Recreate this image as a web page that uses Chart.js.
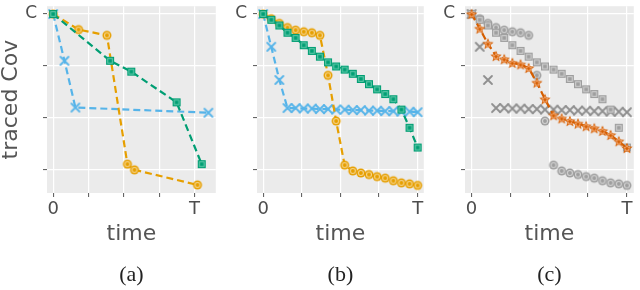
<!DOCTYPE html>
<html>
<head>
<meta charset="utf-8">
<script src="https://cdn.jsdelivr.net/npm/chart.js@4/dist/chart.umd.min.js"></script>
<style>
  body { margin: 0; background: #fff; }
  #wrap { position: relative; width: 640px; height: 290px; }
  canvas { position: absolute; top: 0; }
</style>
</head>
<body>
<div id="wrap">
  <canvas id="chartA" width="222" height="290" style="left:0px"></canvas>
  <canvas id="chartB" width="208" height="290" style="left:222px"></canvas>
  <canvas id="chartC" width="210" height="290" style="left:430px"></canvas>
</div>
<script>
// time is in units where T = 4, covariance in units where C = 3

// (a) adaptive steps, one time list per method
const timeA_blue = [0, 0.32, 0.63, 4.39];
const blueA = [3.00, 2.10, 1.20, 1.10];
const timeA_orange = [0, 0.72, 1.52, 2.10, 2.30, 4.08];
const orangeA = [3.00, 2.70, 2.59, 0.11, 0.00, -0.29];
const timeA_green = [0, 1.61, 2.21, 3.49, 4.20];
const greenA = [3.00, 2.10, 1.89, 1.30, 0.11];

// (b) and (c) fixed steps
const timeSteps = [0, 0.21, 0.42, 0.63, 0.84, 1.05, 1.26, 1.47, 1.68, 1.89,
                   2.11, 2.32, 2.53, 2.74, 2.95, 3.16, 3.37, 3.58, 3.79, 4.00];
const blueB = [3.00, 2.37, 1.73, 1.19, 1.19, 1.18, 1.18, 1.17, 1.17, 1.16,
               1.16, 1.15, 1.15, 1.14, 1.14, 1.13, 1.13, 1.12, 1.12, 1.11];
const orangeB = [3.00, 2.91, 2.82, 2.74, 2.69, 2.66, 2.64, 2.59, 1.82, 0.94,
                 0.09, -0.02, -0.06, -0.09, -0.13, -0.16, -0.21, -0.25, -0.27, -0.30];
const greenB = [3.00, 2.89, 2.78, 2.64, 2.54, 2.40, 2.29, 2.18, 2.07, 1.99,
                1.93, 1.85, 1.75, 1.65, 1.55, 1.46, 1.36, 1.16, 0.81, 0.43];
const starC = [3.00, 2.72, 2.43, 2.19, 2.13, 2.06, 2.03, 1.96, 1.68, 1.36,
               1.05, 0.99, 0.94, 0.89, 0.84, 0.80, 0.75, 0.67, 0.55, 0.42];

const xTickValues = [0, 1, 2, 3, 4];
const xTickLabels = ['0', '', '', '', 'T'];
const yTickValues = [0, 1, 2, 3];
const yTickLabels = ['', '', '', 'C'];

// small canvases used as point styles
function marker(kind, main, light) {
  const c = document.createElement('canvas');
  c.width = 14; c.height = 14;
  const g = c.getContext('2d');
  const m = 7;
  if (kind === 'square') {
    g.fillStyle = main;
    g.fillRect(m - 4, m - 4, 8, 8);
    g.strokeStyle = light; g.lineWidth = 1;
    g.strokeRect(m - 2.3, m - 2.3, 4.6, 4.6);
  } else if (kind === 'circle') {
    g.fillStyle = main;
    g.beginPath(); g.arc(m, m, 4.5, 0, 2 * Math.PI); g.fill();
    g.strokeStyle = light; g.lineWidth = 1.1;
    g.beginPath(); g.arc(m, m, 2.5, 0, 2 * Math.PI); g.stroke();
  } else if (kind === 'cross') {
    g.strokeStyle = main; g.lineWidth = 1.8; g.lineCap = 'round';
    g.beginPath();
    g.moveTo(m - 4, m - 4); g.lineTo(m + 4, m + 4);
    g.moveTo(m + 4, m - 4); g.lineTo(m - 4, m + 4);
    g.stroke();
  } else if (kind === 'star') {
    const path = (ro, ri) => {
      g.beginPath();
      for (let k = 0; k < 10; k++) {
        const r = k % 2 ? ri : ro;
        const a = -Math.PI / 2 + k * Math.PI / 5;
        g.lineTo(m + r * Math.cos(a), m + 0.5 + r * Math.sin(a));
      }
      g.closePath();
    };
    g.fillStyle = main; path(6, 2.7); g.fill();
    g.strokeStyle = light; g.lineWidth = 0.9; path(3.3, 1.5); g.stroke();
  }
  return c;
}

const BLUE = '#56B4E9', ORANGE = '#E69F00', GREEN = '#009E73', VERM = '#D55E00', GREY = '#9E9E9E';
const mkBlue = marker('cross', BLUE);
const mkOrange = marker('circle', ORANGE, '#F6D58E');
const mkGreen = marker('square', GREEN, '#6ACDB0');
const mkStar = marker('star', VERM, '#F2A670');
const mkGreyX = marker('cross', '#8E8E8E');
const mkGreyO = marker('circle', GREY, '#D4D4D4');
const mkGreyS = marker('square', GREY, '#D4D4D4');

function series(xs, ys, color, style, order, showLine) {
  return {
    data: xs.map((x, i) => ({ x: x, y: ys[i] })),
    borderColor: color,
    backgroundColor: color,
    borderWidth: 2.2,
    borderDash: [7, 4],
    pointStyle: style,
    pointRadius: 4,
    showLine: showLine,
    order: order
  };
}

const panelBg = {
  id: 'panelBg',
  beforeDraw(chart) {
    const { ctx, chartArea: a } = chart;
    ctx.save();
    ctx.fillStyle = '#EBEBEB';
    ctx.fillRect(a.left, a.top, a.right - a.left, a.bottom - a.top);
    ctx.restore();
  }
};

function options(xMin, xMax, yWidth, yTitle, caption, rightPad) {
  const grid = { color: '#FFFFFF', lineWidth: 1.2, tickColor: '#555', tickLength: 4, tickWidth: 1 };
  return {
    responsive: false,
    animation: false,
    layout: { padding: { top: 2, right: rightPad, left: 0, bottom: 0 } },
    plugins: {
      legend: { display: false },
      tooltip: { enabled: false },
      subtitle: {
        display: true,
        text: caption,
        position: 'bottom',
        fullSize: false,
        color: '#222',
        font: { family: 'Liberation Serif', size: 22, lineHeight: 1 },
        padding: { top: 11, bottom: 4 }
      }
    },
    scales: {
      x: {
        type: 'linear',
        min: xMin,
        max: xMax,
        border: { display: false },
        grid: grid,
        afterBuildTicks: s => { s.ticks = xTickValues.map(v => ({ value: v })); },
        afterFit: s => { s.height = 60; s.paddingLeft = 0; s.paddingRight = 0; },
        ticks: {
          autoSkip: false, maxRotation: 0, padding: 2, color: '#4D4D4D',
          font: { family: 'DejaVu Sans', size: 18 },
          callback: (v, i) => xTickLabels[i]
        },
        title: {
          display: true, text: 'time', color: '#555',
          font: { family: 'DejaVu Sans', size: 22, lineHeight: 1 },
          padding: { top: 0, bottom: 8 }
        }
      },
      y: {
        type: 'linear',
        min: -0.446,
        max: 3.151,
        border: { display: false },
        grid: grid,
        afterBuildTicks: s => { s.ticks = yTickValues.map(v => ({ value: v })); },
        afterFit: s => { s.width = yWidth; s.paddingTop = 0; s.paddingBottom = 0; },
        ticks: {
          autoSkip: false, padding: 6, color: '#4D4D4D',
          font: { family: 'DejaVu Sans', size: 17 },
          callback: (v, i) => yTickLabels[i]
        },
        title: {
          display: yTitle, text: 'traced Cov', color: '#555',
          font: { family: 'DejaVu Sans', size: 22, lineHeight: 1 },
          padding: 0
        }
      }
    }
  };
}

new Chart(document.getElementById('chartA').getContext('2d'), {
  type: 'scatter',
  data: {
    datasets: [
      series(timeA_blue, blueA, BLUE, mkBlue, 3, true),
      series(timeA_orange, orangeA, ORANGE, mkOrange, 2, true),
      series(timeA_green, greenA, GREEN, mkGreen, 1, true)
    ]
  },
  options: options(-0.174, 4.599, 47, true, '(a)', 2),
  plugins: [panelBg]
});

new Chart(document.getElementById('chartB').getContext('2d'), {
  type: 'scatter',
  data: {
    datasets: [
      series(timeSteps, blueB, BLUE, mkBlue, 3, true),
      series(timeSteps, orangeB, ORANGE, mkOrange, 2, true),
      series(timeSteps, greenB, GREEN, mkGreen, 1, true)
    ]
  },
  options: options(-0.159, 4.159, 35, false, '(b)', 2),
  plugins: [panelBg]
});

new Chart(document.getElementById('chartC').getContext('2d'), {
  type: 'scatter',
  data: {
    datasets: [
      series(timeSteps, blueB, '#8E8E8E', mkGreyX, 4, false),
      series(timeSteps, orangeB, GREY, mkGreyO, 3, false),
      series(timeSteps, greenB, GREY, mkGreyS, 2, false),
      series(timeSteps, starC, VERM, mkStar, 1, true)
    ]
  },
  options: options(-0.169, 4.177, 35, false, '(c)', 3),
  plugins: [panelBg]
});
</script>
</body>
</html>
